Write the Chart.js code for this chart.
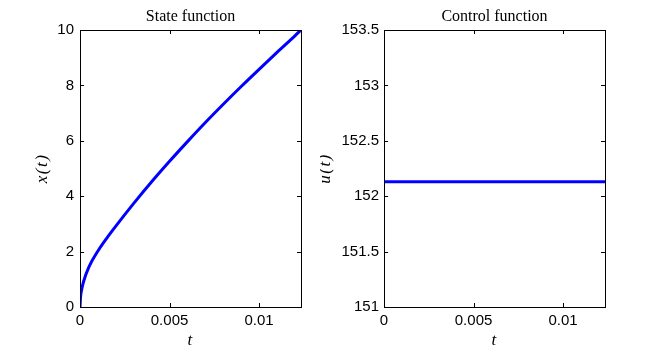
<!DOCTYPE html>
<html>
<head>
<meta charset="utf-8">
<script src="https://cdn.jsdelivr.net/npm/chart.js@4"></script>
<style>
  body { margin: 0; background: #fff; }
  #wrap { position: relative; width: 665px; height: 354px; }
  canvas { position: absolute; top: 0; }
</style>
</head>
<body>
<div id="wrap">
  <canvas id="stateChart" width="320" height="354" style="left:0"></canvas>
  <canvas id="controlChart" width="345" height="354" style="left:320px"></canvas>
</div>
<script>
// time samples and state x(t)
const tState = [0, 0.00003, 0.0001, 0.0002, 0.0005, 0.001, 0.0015, 0.002, 0.003, 0.004,
                0.005, 0.006, 0.007, 0.008, 0.009, 0.010, 0.011, 0.012, 0.01234];
const xState = [0, 0.35, 0.65, 0.92, 1.45, 2.02, 2.49, 2.92, 3.74, 4.52,
                5.26, 5.97, 6.66, 7.32, 7.96, 8.58, 9.19, 9.79, 10];

// control u(t), constant over the horizon
const tControl = [0, 0.01234];
const uControl = [152.13, 152.13];

const tTicks = [0, 0.005, 0.01];
const xTicks = [0, 2, 4, 6, 8, 10];
const uTicks = [151, 151.5, 152, 152.5, 153, 153.5];

const tickFont = { family: "'Liberation Sans', Arial, sans-serif", size: 15 };

// box around the plot + inward ticks on all four sides, plus titles
const matlabFrame = {
    id: 'matlabFrame',
    afterDraw(chart, args, opts) {
        const ctx = chart.ctx;
        const a = chart.chartArea;
        ctx.save();
        ctx.strokeStyle = '#000';
        ctx.lineWidth = 1;
        ctx.strokeRect(Math.round(a.left) + 0.5, Math.round(a.top) + 0.5,
                       Math.round(a.right - a.left), Math.round(a.bottom - a.top));
        const len = 4;
        ctx.beginPath();
        chart.scales.x.ticks.forEach(t => {
            const px = Math.round(chart.scales.x.getPixelForValue(t.value)) + 0.5;
            ctx.moveTo(px, a.bottom); ctx.lineTo(px, a.bottom - len);
            ctx.moveTo(px, a.top); ctx.lineTo(px, a.top + len);
        });
        chart.scales.y.ticks.forEach(t => {
            const py = Math.round(chart.scales.y.getPixelForValue(t.value)) + 0.5;
            ctx.moveTo(a.left, py); ctx.lineTo(a.left + len, py);
            ctx.moveTo(a.right, py); ctx.lineTo(a.right - len, py);
        });
        ctx.stroke();

        // title
        ctx.fillStyle = '#000';
        ctx.textAlign = 'center';
        ctx.textBaseline = 'middle';
        ctx.font = "16px 'Liberation Serif', 'Times New Roman', serif";
        ctx.fillText(opts.title, (a.left + a.right) / 2, 17);

        // axis labels
        ctx.font = "italic 17px 'Liberation Serif', 'Times New Roman', serif";
        ctx.letterSpacing = '1.5px';
        ctx.fillText('t', (a.left + a.right) / 2, 341);
        ctx.translate(opts.yLabelX, (a.top + a.bottom) / 2);
        ctx.rotate(-Math.PI / 2);
        ctx.fillText(opts.yLabel, 0, 0);
        ctx.restore();
    }
};

function makeChart(id, ts, ys, yMin, yMax, yTicks, leftW, rightPad, title, yLabel, yLabelX, yPad) {
    return new Chart(document.getElementById(id).getContext('2d'), {
        type: 'line',
        data: {
            datasets: [{
                data: ts.map((t, i) => ({ x: t, y: ys[i] })),
                borderColor: '#0000ff',
                borderWidth: 3,
                pointRadius: 0,
                fill: false,
                cubicInterpolationMode: 'monotone'
            }]
        },
        options: {
            responsive: false,
            animation: false,
            devicePixelRatio: 1,
            layout: { padding: { top: 30, right: rightPad, bottom: 0, left: 0 } },
            plugins: {
                legend: { display: false },
                tooltip: { enabled: false },
                matlabFrame: { title: title, yLabel: yLabel, yLabelX: yLabelX }
            },
            scales: {
                x: {
                    type: 'linear',
                    min: 0,
                    max: 0.01234,
                    grid: { display: false, drawTicks: false },
                    border: { display: false },
                    afterFit: s => { s.height = 47; },
                    afterBuildTicks: s => { s.ticks = tTicks.map(v => ({ value: v })); },
                    ticks: {
                        color: '#000',
                        font: tickFont,
                        padding: 5,
                        maxRotation: 0,
                        callback: v => String(v)
                    }
                },
                y: {
                    min: yMin,
                    max: yMax,
                    grid: { display: false, drawTicks: false },
                    border: { display: false },
                    afterFit: s => { s.width = leftW; },
                    afterBuildTicks: s => { s.ticks = yTicks.map(v => ({ value: v })); },
                    ticks: {
                        color: '#000',
                        font: tickFont,
                        padding: yPad,
                        callback: v => String(v)
                    }
                }
            }
        },
        plugins: [matlabFrame]
    });
}

makeChart('stateChart', tState, xState, 0, 10, xTicks, 80, 19, 'State function', 'x(t)', 43, 6);
makeChart('controlChart', tControl, uControl, 151, 153.5, uTicks, 64, 60, 'Control function', 'u(t)', 6, 5);
</script>
</body>
</html>
